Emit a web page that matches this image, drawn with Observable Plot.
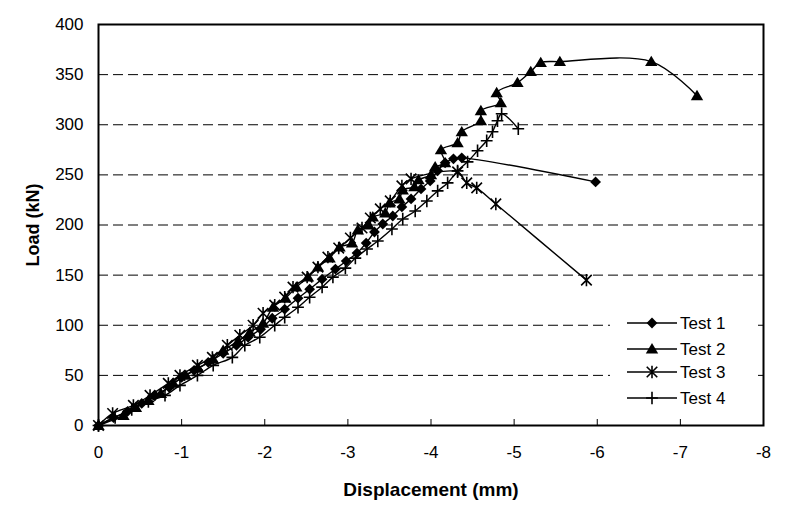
<!DOCTYPE html>
<html>
<head>
<meta charset="utf-8">
<script src="https://cdn.jsdelivr.net/npm/d3@7"></script>
<script src="https://cdn.jsdelivr.net/npm/@observablehq/plot@0.6"></script>
<style>
  html, body { margin: 0; padding: 0; background: white; }
  #wrap { position: relative; width: 796px; height: 528px; font-family: "Liberation Sans", Arial, sans-serif; }
  #legend { position: absolute; left: 610px; top: 308px; background: white; }
</style>
</head>
<body>
<div id="wrap"></div>
<script>
// ---- Data (displacement in mm, load in kN) ----
const test1Disp = [0, -0.18, -0.35, -0.52, -0.68, -0.85, -1.0, -1.15, -1.32, -1.5, -1.66, -1.8, -1.95, -2.09, -2.24, -2.40, -2.54, -2.69, -2.85, -2.98, -3.11, -3.22, -3.32, -3.42, -3.54, -3.65, -3.76, -3.88, -3.99, -4.08, -4.17, -4.27, -4.37, -5.98];
const test1Load = [0, 8, 14, 22, 30, 38, 48, 55, 63, 72, 80, 88, 96, 107, 116, 127, 136, 146, 156, 164, 172, 182, 193, 201, 209, 218, 226, 236, 244, 254, 262, 266, 267, 243];

const test2Disp = [0, -0.3, -0.45, -0.6, -0.75, -0.9, -1.05, -1.2, -1.38, -1.5, -1.68, -1.82, -1.98, -2.1, -2.25, -2.38, -2.52, -2.64, -2.78, -2.9, -3.05, -3.12, -3.25, -3.3, -3.45, -3.5, -3.62, -3.66, -3.8, -3.85, -4.0, -4.05, -4.17, -4.12, -4.32, -4.37, -4.60, -4.60, -4.84, -4.79, -5.04, -5.20, -5.32, -5.55, -6.65, -7.2];
const test2Load = [0, 10, 18, 25, 32, 42, 50, 57, 66, 75, 84, 93, 102, 118, 127, 138, 148, 158, 167, 178, 182, 195, 200, 208, 212, 222, 226, 235, 238, 245, 250, 258, 262, 275, 282, 293, 304, 314, 322, 332, 342, 353, 362, 363, 363, 329];

const test3Disp = [0, -0.17, -0.42, -0.62, -0.84, -0.98, -1.19, -1.37, -1.55, -1.70, -1.86, -1.98, -2.12, -2.24, -2.34, -2.51, -2.64, -2.76, -2.89, -3.03, -3.17, -3.27, -3.39, -3.51, -3.65, -3.76, -4.32, -4.43, -4.55, -4.78, -5.87];
const test3Load = [0, 12, 20, 30, 42, 50, 60, 68, 80, 90, 100, 112, 120, 128, 138, 148, 158, 168, 177, 187, 197, 207, 216, 224, 239, 246, 253, 242, 237, 221, 145];

const test4Disp = [0, -0.2, -0.4, -0.6, -0.8, -0.98, -1.19, -1.38, -1.61, -1.76, -1.94, -2.12, -2.24, -2.40, -2.54, -2.69, -2.82, -2.97, -3.09, -3.23, -3.36, -3.53, -3.66, -3.81, -3.95, -4.08, -4.20, -4.32, -4.44, -4.56, -4.67, -4.74, -4.80, -4.85, -5.05];
const test4Load = [0, 8, 16, 24, 30, 40, 50, 60, 68, 80, 88, 100, 108, 118, 128, 138, 148, 157, 167, 176, 184, 196, 206, 214, 224, 234, 242, 254, 263, 274, 284, 293, 304, 311, 296];

const seriesNames = ["Test 1", "Test 2", "Test 3", "Test 4"];
const xTicks = [0, -1, -2, -3, -4, -5, -6, -7, -8];
const yTicks = [0, 50, 100, 150, 200, 250, 300, 350, 400];
const gridTicks = [50, 100, 150, 200, 250, 300, 350];

// ---- Marker symbols (Excel-like) ----
const rOf = size => Math.sqrt(size / Math.PI);
const symDiamond = { draw(ctx, size) { const h = rOf(size) * 0.9; ctx.moveTo(0, -h); ctx.lineTo(h, 0); ctx.lineTo(0, h); ctx.lineTo(-h, 0); ctx.closePath(); } };
const symTriangle = { draw(ctx, size) { const r = rOf(size); ctx.moveTo(0, -r * 0.95); ctx.lineTo(r, r * 0.72); ctx.lineTo(-r, r * 0.72); ctx.closePath(); } };
const symAsterisk = { draw(ctx, size) { const r = rOf(size); const a = r * 0.85; ctx.moveTo(-a, -a); ctx.lineTo(a, a); ctx.moveTo(-a, a); ctx.lineTo(a, -a); ctx.moveTo(0, -r); ctx.lineTo(0, r); } };
const symPlus = { draw(ctx, size) { const r = rOf(size); ctx.moveTo(-r * 0.95, 0); ctx.lineTo(r * 0.95, 0); ctx.moveTo(0, -r); ctx.lineTo(0, r); } };

const build = (name, xs, ys) => xs.map((d, i) => ({ series: name, disp: d, load: ys[i] }));
const s1 = build(seriesNames[0], test1Disp, test1Load);
const s2 = build(seriesNames[1], test2Disp, test2Load);
const s3 = build(seriesNames[2], test3Disp, test3Load);
const s4 = build(seriesNames[3], test4Disp, test4Load);

const lineOpts = { x: "disp", y: "load", curve: "catmull-rom", stroke: "black", strokeWidth: 1.4 };

const chart = Plot.plot({
  width: 796,
  height: 528,
  marginLeft: 98,
  marginRight: 33,
  marginTop: 24,
  marginBottom: 103,
  style: { fontFamily: "'Liberation Sans', Arial, sans-serif", fontSize: "17px", color: "black", background: "white", overflow: "visible" },
  x: { domain: [0, -8] },
  y: { domain: [0, 400] },
  marks: [
    Plot.gridY(gridTicks, { stroke: "black", strokeOpacity: 1, strokeWidth: 1, strokeDasharray: "10,5" }),
    Plot.axisY(yTicks, { tickSize: 0, tickPadding: 15, label: null, fontSize: 17 }),
    Plot.axisX(xTicks, { tickSize: 0, tickPadding: 20, label: null, fontSize: 17, tickFormat: d => String(d) }),
    Plot.tickX(xTicks.slice(1, -1), { x: d => d, stroke: "black", strokeWidth: 1, insetTop: 395 }),
    Plot.text(["Load (kN)"], { frameAnchor: "left", dx: -65, rotate: -90, fontWeight: "bold", fontSize: 18, lineAnchor: "middle", textAnchor: "middle" }),
    Plot.text(["Displacement (mm)"], { frameAnchor: "bottom", dy: 64, fontWeight: "bold", fontSize: 19, lineAnchor: "middle", textAnchor: "middle" }),
    Plot.line(s1, lineOpts),
    Plot.line(s2, lineOpts),
    Plot.line(s3, lineOpts),
    Plot.line(s4, lineOpts),
    Plot.dot(s1, { x: "disp", y: "load", symbol: symDiamond, r: 6, fill: "black", stroke: "none" }),
    Plot.dot(s2, { x: "disp", y: "load", symbol: symTriangle, r: 6.2, fill: "black", stroke: "none" }),
    Plot.dot(s3, { x: "disp", y: "load", symbol: symAsterisk, r: 6.2, fill: "none", stroke: "black", strokeWidth: 1.6 }),
    Plot.dot(s4, { x: "disp", y: "load", symbol: symPlus, r: 6.2, fill: "none", stroke: "black", strokeWidth: 1.6 }),
    Plot.frame({ stroke: "black", strokeWidth: 2 })
  ]
});

const wrap = document.getElementById("wrap");
wrap.appendChild(chart);

// ---- Legend (HTML overlay with inline SVG) ----
const legendSyms = [
  { sym: symDiamond, r: 6, fill: "black", stroke: "none" },
  { sym: symTriangle, r: 6.2, fill: "black", stroke: "none" },
  { sym: symAsterisk, r: 6.2, fill: "none", stroke: "black" },
  { sym: symPlus, r: 6.2, fill: "none", stroke: "black" }
];
const ns = "http://www.w3.org/2000/svg";
const lg = document.createElementNS(ns, "svg");
lg.setAttribute("id", "legend");
lg.setAttribute("width", 148);
lg.setAttribute("height", 104);
wrap.appendChild(lg);
const rowY = [15, 41, 64, 90];
seriesNames.forEach((name, i) => {
  const y = rowY[i];
  const ln = document.createElementNS(ns, "line");
  ln.setAttribute("x1", 17); ln.setAttribute("x2", 67);
  ln.setAttribute("y1", y); ln.setAttribute("y2", y);
  ln.setAttribute("stroke", "black"); ln.setAttribute("stroke-width", 1.4);
  lg.appendChild(ln);
  const p = d3.path();
  const s = legendSyms[i];
  s.sym.draw(p, s.r * s.r * Math.PI);
  const path = document.createElementNS(ns, "path");
  path.setAttribute("d", p.toString());
  path.setAttribute("transform", `translate(42,${y})`);
  path.setAttribute("fill", s.fill);
  path.setAttribute("stroke", s.stroke);
  path.setAttribute("stroke-width", 1.6);
  lg.appendChild(path);
  const t = document.createElementNS(ns, "text");
  t.setAttribute("x", 70); t.setAttribute("y", y);
  t.setAttribute("dy", "0.35em");
  t.setAttribute("font-size", 17);
  t.setAttribute("font-family", "'Liberation Sans', Arial, sans-serif");
  t.textContent = name;
  lg.appendChild(t);
});
</script>
</body>
</html>
